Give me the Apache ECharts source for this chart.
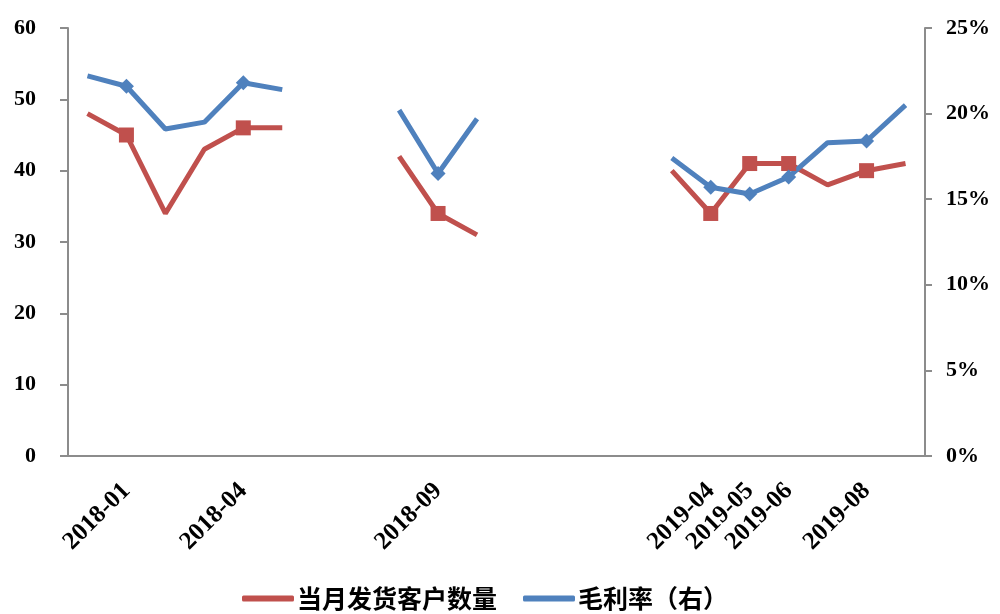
<!DOCTYPE html>
<html><head><meta charset="utf-8">
<script src="https://cdn.jsdelivr.net/npm/echarts@6/dist/echarts.min.js"></script>
<style>html,body{margin:0;padding:0;background:#fff}#c{width:1000px;height:614px}</style>
</head><body><div id="c"></div>
<script>
const months = ['2017-12','2018-01','2018-02','2018-03','2018-04','2018-05','2018-06','2018-07','2018-08','2018-09','2018-10','2018-11','2018-12','2019-01','2019-02','2019-03','2019-04','2019-05','2019-06','2019-07','2019-08','2019-09'];
const tickLabels = ['2018-01','2018-04','2018-09','2019-04','2019-05','2019-06','2019-08'];
const customers = [48,45,34,43,46,46,null,null,42,34,31,null,null,null,null,40,34,41,41,38,40,41];
const margin = [22.2,21.6,19.1,19.5,21.8,21.4,null,null,20.2,16.5,19.7,null,null,null,null,17.4,15.7,15.3,16.3,18.3,18.4,20.5];
const leftTicks = [0,10,20,30,40,50,60];
const rightTicks = [0,5,10,15,20,25];
const seriesNames = ['当月发货客户数量','毛利率（右）'];

const chart = echarts.init(document.getElementById('c'));
const axisFont = {fontFamily:'Liberation Serif', fontSize:22, fontWeight:'bold', color:'#000'};
const marked = (v, p) => tickLabels.includes(months[p.dataIndex]);
chart.setOption({
  animation:false,
  grid:{left:68,right:75,top:28,bottom:158},
  legend:{top:586,left:242,padding:0,icon:'roundRect',itemWidth:52,itemHeight:6,itemGap:26,
    textStyle:{fontFamily:'Noto Sans CJK SC',fontWeight:'bold',fontSize:25,color:'#000',padding:[0,0,0,-2]},
    data:seriesNames},
  xAxis:{type:'category',data:months,boundaryGap:true,
    axisLine:{lineStyle:{color:'#8c8c8c',width:2}},axisTick:{show:false},
    axisLabel:Object.assign({},axisFont,{interval:0,rotate:45,margin:31,fontSize:25,
      formatter:v=>tickLabels.includes(v)?v:''})},
  yAxis:[
    {type:'value',min:leftTicks[0],max:leftTicks[leftTicks.length-1],interval:10,splitLine:{show:false},
     axisLine:{show:true,lineStyle:{color:'#8c8c8c',width:2}},
     axisTick:{show:true,length:8,lineStyle:{color:'#8c8c8c',width:2}},
     axisLabel:Object.assign({},axisFont,{margin:32})},
    {type:'value',min:rightTicks[0],max:rightTicks[rightTicks.length-1],interval:5,splitLine:{show:false},
     axisLine:{show:true,lineStyle:{color:'#8c8c8c',width:2}},
     axisTick:{show:true,length:7,lineStyle:{color:'#8c8c8c',width:2}},
     axisLabel:Object.assign({},axisFont,{margin:21,formatter:v=>v+'%'})}
  ],
  series:[
    {name:seriesNames[0],type:'line',yAxisIndex:0,data:customers,connectNulls:false,
     color:'#C0504D',lineStyle:{width:5,color:'#C0504D'},
     symbol:(v,p)=>marked(v,p)?'rect':'none',symbolSize:15,itemStyle:{color:'#C0504D'},showAllSymbol:true},
    {name:seriesNames[1],type:'line',yAxisIndex:1,data:margin,connectNulls:false,
     color:'#4F81BD',lineStyle:{width:5,color:'#4F81BD'},
     symbol:(v,p)=>marked(v,p)?'diamond':'none',symbolSize:15,itemStyle:{color:'#4F81BD'},showAllSymbol:true}
  ]
});
</script></body></html>
